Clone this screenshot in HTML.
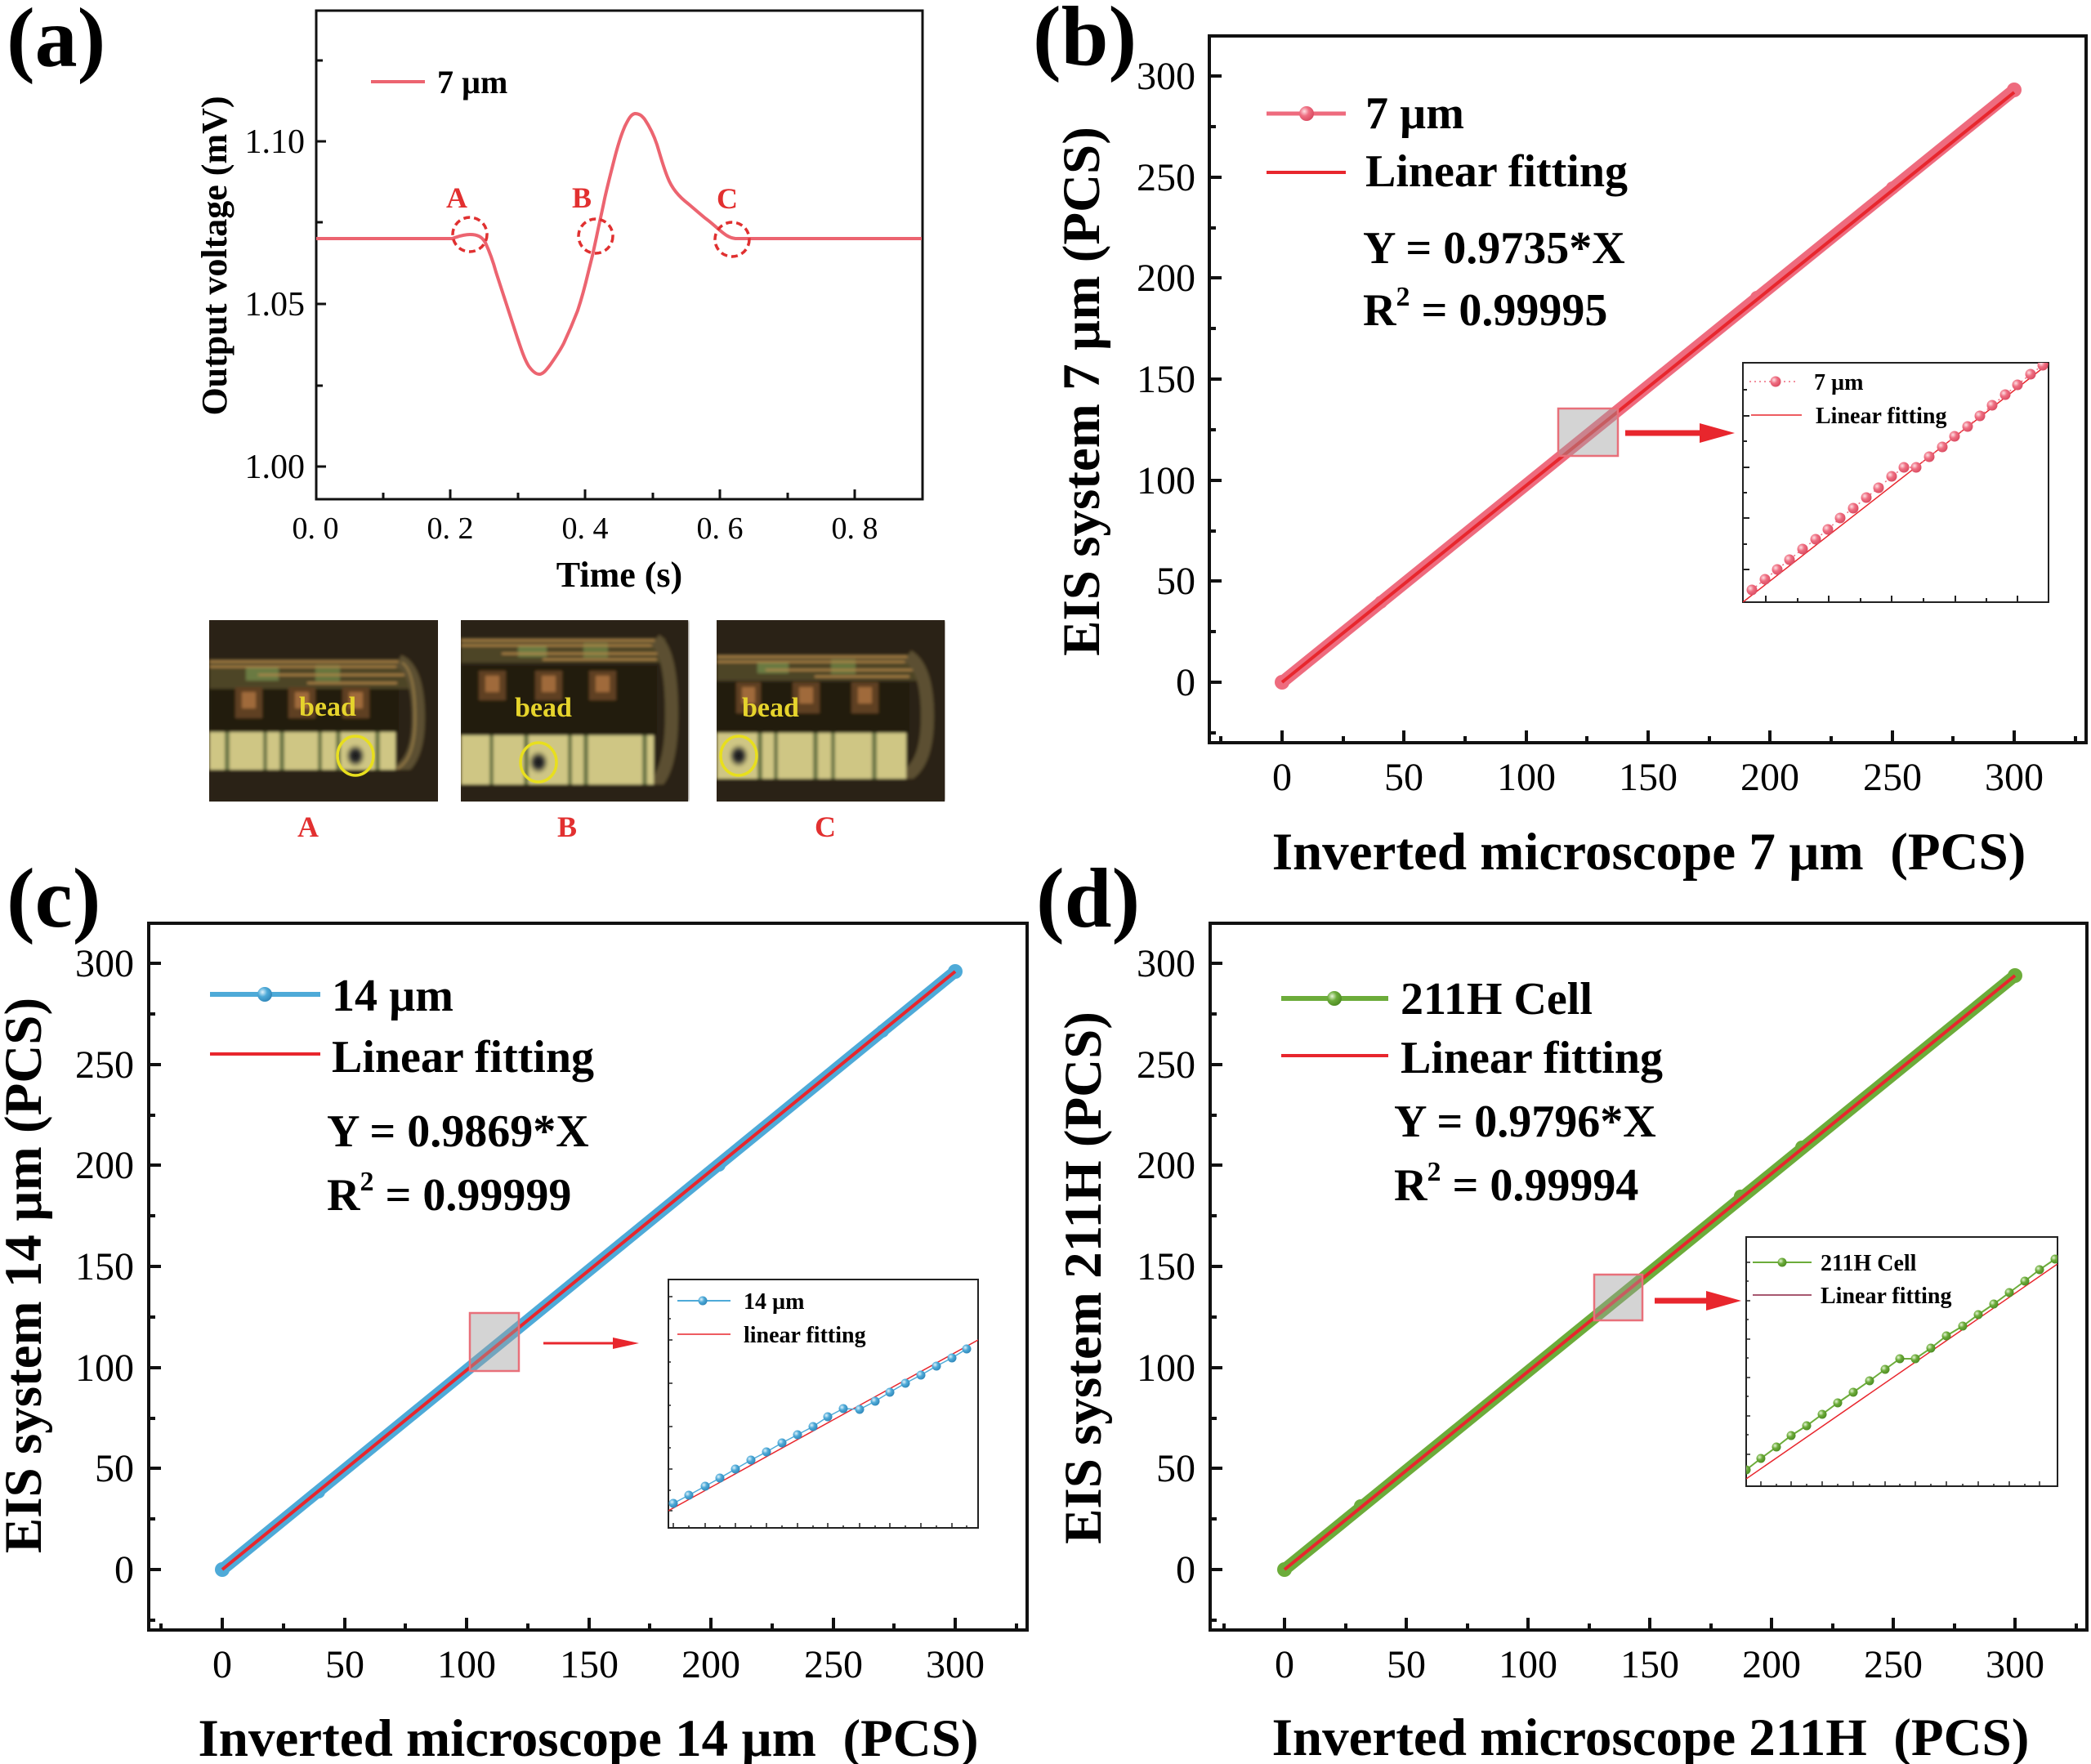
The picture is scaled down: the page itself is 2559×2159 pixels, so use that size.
<!DOCTYPE html>
<html><head><meta charset="utf-8"><style>
html,body{margin:0;padding:0;background:#fff}
svg{display:block}
text{font-family:"Liberation Serif","Times New Roman",serif}
.b{font-weight:bold}
</style></head><body>
<svg xmlns="http://www.w3.org/2000/svg" width="2559" height="2159" viewBox="0 0 2559 2159">
<defs>
<radialGradient id="gp" cx="0.35" cy="0.35" r="0.7"><stop offset="0" stop-color="#fde0e4"/><stop offset="0.45" stop-color="#ef6f82"/><stop offset="1" stop-color="#d94a60"/></radialGradient>
<radialGradient id="gb" cx="0.35" cy="0.35" r="0.7"><stop offset="0" stop-color="#dff2fb"/><stop offset="0.45" stop-color="#4eaad8"/><stop offset="1" stop-color="#2f86b8"/></radialGradient>
<radialGradient id="gg" cx="0.35" cy="0.35" r="0.7"><stop offset="0" stop-color="#e6f5d6"/><stop offset="0.45" stop-color="#6cac3a"/><stop offset="1" stop-color="#4c8a22"/></radialGradient>
<clipPath id="cb"><rect x="2133" y="444" width="374" height="293"/></clipPath>
<clipPath id="cc"><rect x="818" y="1566" width="379" height="304"/></clipPath>
<clipPath id="cd"><rect x="2137" y="1514" width="381" height="305"/></clipPath>
<clipPath id="ph"><rect width="280" height="222"/></clipPath>
<filter id="bl" x="-5%" y="-5%" width="110%" height="110%"><feGaussianBlur stdDeviation="1.8"/></filter>
<radialGradient id="dot" cx="0.5" cy="0.5" r="0.5"><stop offset="0" stop-color="#111"/><stop offset="0.45" stop-color="#333"/><stop offset="1" stop-color="#8a8658" stop-opacity="0"/></radialGradient>
</defs>
<rect width="2559" height="2159" fill="#fff"/>

<!-- ================= PANEL (a) ================= -->
<text class="b" x="8" y="81" font-size="104">(a)</text>
<rect x="387" y="13" width="742" height="598" fill="none" stroke="#111" stroke-width="3"/>
<path d="M551,611V599M716,611V599M881,611V599M1046,611V599M469,611V603M634,611V603M799,611V603M964,611V603M387,571H399M387,372H399M387,173H399M387,472H395M387,272H395M387,74H395" stroke="#111" stroke-width="3" fill="none"/>
<g font-size="42" text-anchor="end">
<text x="373" y="585">1.00</text><text x="373" y="386">1.05</text><text x="373" y="187">1.10</text>
</g>
<g font-size="38" text-anchor="middle">
<text x="386" y="659">0. 0</text><text x="551" y="659">0. 2</text><text x="716" y="659">0. 4</text><text x="881" y="659">0. 6</text><text x="1046" y="659">0. 8</text>
</g>
<text class="b" x="758" y="718" font-size="44" text-anchor="middle">Time (s)</text>
<text class="b" font-size="44" text-anchor="middle" transform="translate(277,313) rotate(-90)">Output voltage (mV)</text>
<line x1="454" y1="100" x2="520" y2="100" stroke="#ec6470" stroke-width="4"/>
<text class="b" x="535" y="114" font-size="40">7 µm</text>
<path d="M387,292 L553,292 C560,290 566,287 575,287 C585,287 590,290 594,297 C600,310 604,322 607,333 L620,373 L633,413 C638,428 642,440 647,448 C652,455 656,458 660,458 C665,458 669,452 673,447 C680,437 685,430 690,420 C697,405 702,393 707,380 C712,365 716,350 720,333 C724,318 727,305 730,290 C733,275 737,258 740,243 C744,225 748,210 751,198 C755,182 760,165 765,154 C769,146 772,140 777,139 C782,139 785,141 789,146 C795,155 800,165 804,177 C808,190 812,205 817,217 C822,230 830,240 843,250 C850,256 857,262 863,267 C870,272 875,277 880,281 C887,287 892,291 900,292 L1128,292" fill="none" stroke="#ec6470" stroke-width="4"/>
<g fill="none" stroke="#e03030" stroke-width="3.5" stroke-dasharray="8,5">
<circle cx="575" cy="287" r="21"/><circle cx="729" cy="289" r="21"/><circle cx="896" cy="293" r="21"/>
</g>
<g class="b" font-size="36" fill="#e23030" font-weight="bold">
<text x="546" y="254">A</text><text x="700" y="254">B</text><text x="877" y="255">C</text>
</g>

<!-- photos -->
<g transform="translate(256,759)">
<rect width="280" height="222" fill="#2c2316"/>
<g filter="url(#bl)" clip-path="url(#ph)">
<rect width="280" height="222" fill="#2c2316"/>
<rect x="0" y="48" width="245" height="36" fill="#4d4526"/>
<rect x="45" y="58" width="40" height="16" fill="#6a7a42"/><rect x="130" y="55" width="30" height="20" fill="#66743e"/>
<g stroke="#b88a4c" stroke-width="2"><line x1="0" y1="51" x2="238" y2="51"/><line x1="0" y1="57" x2="240" y2="57"/><line x1="60" y1="67" x2="240" y2="67"/><line x1="120" y1="77" x2="230" y2="77"/></g>
<path d="M232,50 Q256,60 256,120 Q256,175 228,186" fill="none" stroke="#5c5030" stroke-width="16"/>
<path d="M236,52 Q252,62 252,120 Q252,170 230,182" fill="none" stroke="#9c8048" stroke-width="2"/>
<rect x="0" y="84" width="232" height="52" fill="#231a10"/>
<rect x="32" y="82" width="33" height="38" fill="#5e3f22"/><rect x="40" y="88" width="17" height="20" fill="#a06a3a"/>
<rect x="97" y="82" width="33" height="38" fill="#5e3f22"/><rect x="105" y="88" width="17" height="20" fill="#a06a3a"/>
<rect x="163" y="82" width="33" height="38" fill="#5e3f22"/><rect x="171" y="88" width="17" height="20" fill="#a06a3a"/>
<rect x="0" y="137" width="228" height="46" fill="#cfc684"/>
<g fill="#6e7846"><rect x="19" y="137" width="6" height="46"/><rect x="66" y="137" width="5" height="46"/><rect x="86" y="137" width="6" height="46"/><rect x="133" y="137" width="5" height="46"/><rect x="155" y="137" width="6" height="46"/><rect x="203" y="137" width="6" height="46"/></g>
<rect x="0" y="183" width="280" height="39" fill="#2a2114"/>
<ellipse cx="179" cy="166" rx="13" ry="15" fill="url(#dot)"/>
</g>
<text class="b" x="110" y="117" font-size="34" fill="#e6d42c">bead</text>
<ellipse cx="179" cy="166" rx="22" ry="24" fill="none" stroke="#e8df1e" stroke-width="3.5"/>
</g>
<g transform="translate(564,759)">
<rect width="278" height="222" fill="#2c2316"/>
<g filter="url(#bl)" clip-path="url(#ph)">
<rect width="278" height="222" fill="#2c2316"/>
<rect x="0" y="22" width="250" height="30" fill="#4d4526"/>
<rect x="70" y="30" width="35" height="15" fill="#6a7a42"/><rect x="150" y="28" width="30" height="18" fill="#66743e"/>
<g stroke="#b88a4c" stroke-width="2"><line x1="0" y1="25" x2="245" y2="25"/><line x1="0" y1="31" x2="248" y2="31"/><line x1="50" y1="41" x2="248" y2="41"/><line x1="100" y1="48" x2="240" y2="48"/></g>
<path d="M238,24 Q258,40 258,115 Q258,190 232,205" fill="none" stroke="#5c5030" stroke-width="16"/>
<rect x="0" y="56" width="240" height="84" fill="#231a10"/>
<rect x="22" y="62" width="33" height="36" fill="#5e3f22"/><rect x="30" y="68" width="17" height="20" fill="#a06a3a"/>
<rect x="91" y="62" width="33" height="36" fill="#5e3f22"/><rect x="99" y="68" width="17" height="20" fill="#a06a3a"/>
<rect x="157" y="62" width="33" height="36" fill="#5e3f22"/><rect x="165" y="68" width="17" height="20" fill="#a06a3a"/>
<rect x="0" y="141" width="236" height="60" fill="#cfc684"/>
<g fill="#6e7846"><rect x="35" y="141" width="5" height="60"/><rect x="77" y="141" width="6" height="60"/><rect x="131" y="141" width="5" height="60"/><rect x="150" y="141" width="6" height="60"/><rect x="222" y="141" width="6" height="60"/></g>
<rect x="0" y="201" width="278" height="21" fill="#2a2114"/>
<ellipse cx="95" cy="174" rx="13" ry="15" fill="url(#dot)"/>
</g>
<text class="b" x="66" y="118" font-size="34" fill="#e6d42c">bead</text>
<ellipse cx="95" cy="174" rx="22" ry="24" fill="none" stroke="#e8df1e" stroke-width="3.5"/>
</g>
<g transform="translate(877,759)">
<rect width="279" height="222" fill="#2c2316"/>
<g filter="url(#bl)" clip-path="url(#ph)">
<rect width="279" height="222" fill="#2c2316"/>
<rect x="0" y="42" width="245" height="32" fill="#4d4526"/>
<rect x="50" y="50" width="38" height="15" fill="#6a7a42"/><rect x="140" y="48" width="30" height="18" fill="#66743e"/>
<g stroke="#b88a4c" stroke-width="2"><line x1="0" y1="45" x2="240" y2="45"/><line x1="0" y1="51" x2="242" y2="51"/><line x1="60" y1="61" x2="242" y2="61"/><line x1="120" y1="69" x2="236" y2="69"/></g>
<path d="M234,44 Q258,58 258,118 Q258,180 228,192" fill="none" stroke="#5c5030" stroke-width="16"/>
<rect x="0" y="76" width="236" height="61" fill="#231a10"/>
<rect x="24" y="76" width="30" height="38" fill="#5e3f22"/><rect x="31" y="82" width="16" height="20" fill="#a06a3a"/>
<rect x="93" y="76" width="33" height="38" fill="#5e3f22"/><rect x="101" y="82" width="17" height="20" fill="#a06a3a"/>
<rect x="165" y="76" width="33" height="38" fill="#5e3f22"/><rect x="173" y="82" width="17" height="20" fill="#a06a3a"/>
<rect x="0" y="138" width="232" height="56" fill="#cfc684"/>
<g fill="#6e7846"><rect x="50" y="138" width="6" height="56"/><rect x="70" y="138" width="5" height="56"/><rect x="118" y="138" width="6" height="56"/><rect x="140" y="138" width="5" height="56"/><rect x="190" y="138" width="6" height="56"/></g>
<rect x="0" y="194" width="279" height="28" fill="#2a2114"/>
<ellipse cx="27" cy="166" rx="13" ry="15" fill="url(#dot)"/>
</g>
<text class="b" x="31" y="118" font-size="34" fill="#e6d42c">bead</text>
<ellipse cx="27" cy="166" rx="22" ry="24" fill="none" stroke="#e8df1e" stroke-width="3.5"/>
</g>
<g class="b" font-size="36" fill="#e23030" font-weight="bold" text-anchor="middle">
<text x="377" y="1024">A</text><text x="694" y="1024">B</text><text x="1010" y="1024">C</text>
</g>

<!-- ================= PANEL (b) ================= -->
<rect x="1480" y="44" width="1073" height="865" fill="none" stroke="#111" stroke-width="4"/>
<path d="M1569,909V894M1718,909V894M1868,909V894M2017,909V894M2166,909V894M2316,909V894M2465,909V894M1494,909V901M1644,909V901M1793,909V901M1942,909V901M2092,909V901M2241,909V901M2390,909V901M2540,909V901M1480,835H1495M1480,711H1495M1480,588H1495M1480,464H1495M1480,340H1495M1480,217H1495M1480,93H1495M1480,897H1488M1480,773H1488M1480,650H1488M1480,526H1488M1480,402H1488M1480,279H1488M1480,155H1488" stroke="#111" stroke-width="4" fill="none"/>
<g font-size="48" text-anchor="end">
<text x="1463" y="851">0</text><text x="1463" y="727">50</text><text x="1463" y="604">100</text><text x="1463" y="480">150</text><text x="1463" y="356">200</text><text x="1463" y="233">250</text><text x="1463" y="109">300</text>
</g>
<g font-size="48" text-anchor="middle">
<text x="1569" y="967">0</text><text x="1718" y="967">50</text><text x="1868" y="967">100</text><text x="2017" y="967">150</text><text x="2166" y="967">200</text><text x="2316" y="967">250</text><text x="2465" y="967">300</text>
</g>
<text class="b" x="2018" y="1064" font-size="65" text-anchor="middle">Inverted microscope 7 µm&#160;&#160;(PCS)</text>
<text class="b" font-size="65" text-anchor="middle" transform="translate(1345,479) rotate(-90)">EIS system 7 µm (PCS)</text>
<text class="b" x="1264" y="79" font-size="104">(b)</text>
<line x1="1569" y1="835" x2="2465" y2="110" stroke="#ee6b7e" stroke-width="15" stroke-linecap="round"/>
<g fill="#ee6b7e"><circle cx="1569" cy="835" r="9"/><circle cx="2465" cy="110" r="9"/><circle cx="1690" cy="737" r="8"/><circle cx="2150" cy="364" r="8"/><circle cx="2316" cy="230" r="8"/></g>
<line x1="1569" y1="835" x2="2465" y2="113" stroke="#e8262d" stroke-width="4"/>
<rect x="1907" y="500" width="73" height="58" fill="#a0a0a0" fill-opacity="0.45" stroke="#e8707a" stroke-width="2.5"/>
<rect x="1989" y="526.5" width="96" height="7" fill="#e8262d"/>
<polygon points="2080,518 2123,530 2080,542" fill="#e8262d"/>
<line x1="1550" y1="139" x2="1647" y2="139" stroke="#ee6b7e" stroke-width="5"/>
<circle cx="1599" cy="139" r="9" fill="url(#gp)"/>
<line x1="1550" y1="211" x2="1647" y2="211" stroke="#e8262d" stroke-width="4"/>
<g class="b" font-size="56">
<text x="1671" y="157">7 µm</text>
<text x="1671" y="228">Linear fitting</text>
<text x="1668" y="322">Y = 0.9735*X</text>
<text x="1668" y="398">R<tspan dy="-24" font-size="34">2</tspan><tspan dy="24"> = 0.99995</tspan></text>
</g>
<!-- inset b -->
<rect x="2133" y="444" width="374" height="293" fill="#fff" stroke="#222" stroke-width="2"/>
<path d="M2133,477H2138M2133,509H2141M2133,540H2138M2133,572H2141M2133,603H2138M2133,634H2141M2133,666H2138M2133,697H2141M2161,737V729M2200,737V732M2238,737V729M2277,737V732M2315,737V729M2354,737V732M2393,737V729M2431,737V732M2469,737V729" stroke="#222" stroke-width="2"/>
<g clip-path="url(#cb)">
<line x1="2133" y1="737" x2="2507" y2="445" stroke="#e8262d" stroke-width="1.5"/>
<polyline points="2144,722 2160,709 2175,697 2190,685 2206,672 2222,660 2237,648 2252,634 2268,622 2284,609 2299,597 2315,583 2330,572 2345,572 2361,559 2377,547 2392,534 2408,522 2423,509 2438,496 2454,483 2469,471 2485,458 2500,447" fill="none" stroke="#ee6b7e" stroke-width="1.5" stroke-dasharray="2,4"/>
<g fill="url(#gp)">
<circle cx="2144" cy="722" r="6.5"/><circle cx="2160" cy="709" r="6.5"/><circle cx="2175" cy="697" r="6.5"/><circle cx="2190" cy="685" r="6.5"/><circle cx="2206" cy="672" r="6.5"/><circle cx="2222" cy="660" r="6.5"/><circle cx="2237" cy="648" r="6.5"/><circle cx="2252" cy="634" r="6.5"/><circle cx="2268" cy="622" r="6.5"/><circle cx="2284" cy="609" r="6.5"/><circle cx="2299" cy="597" r="6.5"/><circle cx="2315" cy="583" r="6.5"/><circle cx="2330" cy="572" r="6.5"/><circle cx="2345" cy="572" r="6.5"/><circle cx="2361" cy="559" r="6.5"/><circle cx="2377" cy="547" r="6.5"/><circle cx="2392" cy="534" r="6.5"/><circle cx="2408" cy="522" r="6.5"/><circle cx="2423" cy="509" r="6.5"/><circle cx="2438" cy="496" r="6.5"/><circle cx="2454" cy="483" r="6.5"/><circle cx="2469" cy="471" r="6.5"/><circle cx="2485" cy="458" r="6.5"/><circle cx="2500" cy="447" r="6.5"/>
</g>
</g>
<line x1="2141" y1="467" x2="2200" y2="467" stroke="#ee6b7e" stroke-width="1.5" stroke-dasharray="2,4"/>
<circle cx="2173" cy="467" r="6.5" fill="url(#gp)"/>
<line x1="2143" y1="508" x2="2205" y2="508" stroke="#e8262d" stroke-width="1.5"/>
<g class="b" font-size="28"><text x="2220" y="477">7 µm</text><text x="2222" y="518">Linear fitting</text></g>

<!-- ================= PANEL (c) ================= -->
<text class="b" x="8" y="1134" font-size="104">(c)</text>
<rect x="182" y="1130" width="1075" height="865" fill="none" stroke="#111" stroke-width="4"/>
<path d="M272,1995V1980M422,1995V1980M571,1995V1980M721,1995V1980M870,1995V1980M1020,1995V1980M1169,1995V1980M197,1995V1987M347,1995V1987M496,1995V1987M646,1995V1987M795,1995V1987M945,1995V1987M1094,1995V1987M1244,1995V1987M182,1921H197M182,1797H197M182,1674H197M182,1550H197M182,1426H197M182,1303H197M182,1179H197M182,1983H190M182,1859H190M182,1736H190M182,1612H190M182,1488H190M182,1365H190M182,1241H190" stroke="#111" stroke-width="4" fill="none"/>
<g font-size="48" text-anchor="end">
<text x="164" y="1937">0</text><text x="164" y="1813">50</text><text x="164" y="1690">100</text><text x="164" y="1566">150</text><text x="164" y="1442">200</text><text x="164" y="1319">250</text><text x="164" y="1195">300</text>
</g>
<g font-size="48" text-anchor="middle">
<text x="272" y="2053">0</text><text x="422" y="2053">50</text><text x="571" y="2053">100</text><text x="721" y="2053">150</text><text x="870" y="2053">200</text><text x="1020" y="2053">250</text><text x="1169" y="2053">300</text>
</g>
<text class="b" x="720" y="2149" font-size="65" text-anchor="middle">Inverted microscope 14 µm&#160;&#160;(PCS)</text>
<text class="b" font-size="65" text-anchor="middle" transform="translate(50,1561) rotate(-90)">EIS system 14 µm (PCS)</text>
<line x1="272" y1="1921" x2="1169" y2="1189" stroke="#4eaad8" stroke-width="15" stroke-linecap="round"/>
<g fill="#4eaad8"><circle cx="272" cy="1921" r="9"/><circle cx="1169" cy="1189" r="9"/><circle cx="390" cy="1826" r="8"/><circle cx="880" cy="1426" r="8"/><circle cx="1080" cy="1262" r="8"/></g>
<line x1="272" y1="1921" x2="1169" y2="1189" stroke="#e8262d" stroke-width="4"/>
<rect x="575" y="1607" width="60" height="71" fill="#a0a0a0" fill-opacity="0.45" stroke="#e8707a" stroke-width="2.5"/>
<line x1="665" y1="1644" x2="755" y2="1644" stroke="#e8262d" stroke-width="3"/>
<polygon points="750,1637 782,1644 750,1651" fill="#e8262d"/>
<line x1="257" y1="1217" x2="392" y2="1217" stroke="#4eaad8" stroke-width="6"/>
<circle cx="324" cy="1217" r="9" fill="url(#gb)"/>
<line x1="257" y1="1290" x2="392" y2="1290" stroke="#e8262d" stroke-width="4"/>
<g class="b" font-size="56">
<text x="406" y="1237">14 µm</text>
<text x="406" y="1312">Linear fitting</text>
<text x="400" y="1403">Y = 0.9869*X</text>
<text x="400" y="1481">R<tspan dy="-24" font-size="34">2</tspan><tspan dy="24"> = 0.99999</tspan></text>
</g>
<!-- inset c -->
<rect x="818" y="1566" width="379" height="304" fill="#fff" stroke="#222" stroke-width="2"/>
<path d="M818,1587H823M818,1614H821M818,1640H823M818,1667H821M818,1693H823M818,1720H821M818,1746H823M818,1772H821M818,1798H823M818,1824H821M818,1849H823M824,1870V1864M843,1870V1867M863,1870V1864M881,1870V1867M900,1870V1864M919,1870V1867M938,1870V1864M957,1870V1867M976,1870V1864M995,1870V1867M1013,1870V1864M1032,1870V1867M1052,1870V1864M1071,1870V1867M1089,1870V1864M1108,1870V1867M1127,1870V1864M1146,1870V1867M1165,1870V1864M1183,1870V1867" stroke="#222" stroke-width="1.5"/>
<g clip-path="url(#cc)">
<line x1="818" y1="1849" x2="1197" y2="1640" stroke="#e8262d" stroke-width="1.5"/>
<polyline points="824,1840 843,1830 863,1819 881,1809 900,1798 919,1787 938,1777 957,1766 976,1756 995,1746 1013,1734 1032,1724 1052,1725 1071,1715 1089,1704 1108,1693 1127,1683 1146,1672 1165,1662 1183,1651" fill="none" stroke="#4eaad8" stroke-width="1.5"/>
<g fill="url(#gb)">
<circle cx="824" cy="1840" r="5.5"/><circle cx="843" cy="1830" r="5.5"/><circle cx="863" cy="1819" r="5.5"/><circle cx="881" cy="1809" r="5.5"/><circle cx="900" cy="1798" r="5.5"/><circle cx="919" cy="1787" r="5.5"/><circle cx="938" cy="1777" r="5.5"/><circle cx="957" cy="1766" r="5.5"/><circle cx="976" cy="1756" r="5.5"/><circle cx="995" cy="1746" r="5.5"/><circle cx="1013" cy="1734" r="5.5"/><circle cx="1032" cy="1724" r="5.5"/><circle cx="1052" cy="1725" r="5.5"/><circle cx="1071" cy="1715" r="5.5"/><circle cx="1089" cy="1704" r="5.5"/><circle cx="1108" cy="1693" r="5.5"/><circle cx="1127" cy="1683" r="5.5"/><circle cx="1146" cy="1672" r="5.5"/><circle cx="1165" cy="1662" r="5.5"/><circle cx="1183" cy="1651" r="5.5"/>
</g>
</g>
<line x1="829" y1="1592" x2="894" y2="1592" stroke="#4eaad8" stroke-width="2"/>
<circle cx="860" cy="1592" r="5.5" fill="url(#gb)"/>
<line x1="829" y1="1633" x2="894" y2="1633" stroke="#e8262d" stroke-width="1.5"/>
<g class="b" font-size="28"><text x="910" y="1602">14 µm</text><text x="910" y="1643">linear fitting</text></g>

<!-- ================= PANEL (d) ================= -->
<text class="b" x="1268" y="1134" font-size="104">(d)</text>
<rect x="1481" y="1130" width="1073" height="865" fill="none" stroke="#111" stroke-width="4"/>
<path d="M1572,1995V1980M1721,1995V1980M1870,1995V1980M2019,1995V1980M2168,1995V1980M2317,1995V1980M2466,1995V1980M1498,1995V1987M1647,1995V1987M1796,1995V1987M1945,1995V1987M2094,1995V1987M2243,1995V1987M2392,1995V1987M2541,1995V1987M1481,1921H1496M1481,1797H1496M1481,1674H1496M1481,1550H1496M1481,1426H1496M1481,1303H1496M1481,1179H1496M1481,1983H1489M1481,1859H1489M1481,1736H1489M1481,1612H1489M1481,1488H1489M1481,1365H1489M1481,1241H1489" stroke="#111" stroke-width="4" fill="none"/>
<g font-size="48" text-anchor="end">
<text x="1463" y="1937">0</text><text x="1463" y="1813">50</text><text x="1463" y="1690">100</text><text x="1463" y="1566">150</text><text x="1463" y="1442">200</text><text x="1463" y="1319">250</text><text x="1463" y="1195">300</text>
</g>
<g font-size="48" text-anchor="middle">
<text x="1572" y="2053">0</text><text x="1721" y="2053">50</text><text x="1870" y="2053">100</text><text x="2019" y="2053">150</text><text x="2168" y="2053">200</text><text x="2317" y="2053">250</text><text x="2466" y="2053">300</text>
</g>
<text class="b" x="2020" y="2148" font-size="65" text-anchor="middle">Inverted microscope 211H&#160;&#160;(PCS)</text>
<text class="b" font-size="65" text-anchor="middle" transform="translate(1347,1564) rotate(-90)">EIS system 211H (PCS)</text>
<line x1="1572" y1="1921" x2="2466" y2="1194" stroke="#6cac3a" stroke-width="15" stroke-linecap="round"/>
<g fill="#6cac3a"><circle cx="1572" cy="1921" r="9"/><circle cx="2466" cy="1194" r="9"/><circle cx="1665" cy="1843" r="8"/><circle cx="2130" cy="1464" r="8"/><circle cx="2205" cy="1404" r="8"/></g>
<line x1="1572" y1="1921" x2="2466" y2="1194" stroke="#e8262d" stroke-width="4"/>
<rect x="1951" y="1560" width="59" height="56" fill="#a0a0a0" fill-opacity="0.45" stroke="#e8707a" stroke-width="2.5"/>
<rect x="2025" y="1588.5" width="70" height="7" fill="#e8262d"/>
<polygon points="2088,1580 2131,1592 2088,1604" fill="#e8262d"/>
<line x1="1568" y1="1222" x2="1699" y2="1222" stroke="#6cac3a" stroke-width="6"/>
<circle cx="1633" cy="1222" r="9" fill="url(#gg)"/>
<line x1="1568" y1="1292" x2="1699" y2="1292" stroke="#e8262d" stroke-width="4"/>
<g class="b" font-size="56">
<text x="1714" y="1241">211H Cell</text>
<text x="1714" y="1313">Linear fitting</text>
<text x="1706" y="1391">Y = 0.9796*X</text>
<text x="1706" y="1469">R<tspan dy="-24" font-size="34">2</tspan><tspan dy="24"> = 0.99994</tspan></text>
</g>
<!-- inset d -->
<rect x="2137" y="1514" width="381" height="305" fill="#fff" stroke="#222" stroke-width="2"/>
<path d="M2137,1545H2142M2137,1568H2140M2137,1592H2142M2137,1615H2140M2137,1639H2142M2137,1662H2140M2137,1686H2142M2137,1709H2140M2137,1733H2142M2137,1756H2140M2137,1780H2142M2155,1819V1813M2174,1819V1816M2192,1819V1813M2211,1819V1816M2230,1819V1813M2249,1819V1816M2268,1819V1813M2288,1819V1816M2307,1819V1813M2325,1819V1816M2344,1819V1813M2363,1819V1816M2382,1819V1813M2402,1819V1816M2421,1819V1813M2440,1819V1816M2459,1819V1813M2478,1819V1816M2496,1819V1813" stroke="#222" stroke-width="1.5"/>
<g clip-path="url(#cd)">
<line x1="2137" y1="1810" x2="2518" y2="1547" stroke="#e8262d" stroke-width="1.5"/>
<polyline points="2137,1799 2155,1785 2174,1771 2192,1757 2211,1745 2230,1731 2249,1717 2268,1704 2288,1690 2307,1676 2325,1663 2344,1663 2363,1650 2382,1635 2402,1623 2421,1609 2440,1596 2459,1582 2478,1568 2496,1554 2515,1541" fill="none" stroke="#6cac3a" stroke-width="2"/>
<g fill="url(#gg)">
<circle cx="2137" cy="1799" r="5.5"/><circle cx="2155" cy="1785" r="5.5"/><circle cx="2174" cy="1771" r="5.5"/><circle cx="2192" cy="1757" r="5.5"/><circle cx="2211" cy="1745" r="5.5"/><circle cx="2230" cy="1731" r="5.5"/><circle cx="2249" cy="1717" r="5.5"/><circle cx="2268" cy="1704" r="5.5"/><circle cx="2288" cy="1690" r="5.5"/><circle cx="2307" cy="1676" r="5.5"/><circle cx="2325" cy="1663" r="5.5"/><circle cx="2344" cy="1663" r="5.5"/><circle cx="2363" cy="1650" r="5.5"/><circle cx="2382" cy="1635" r="5.5"/><circle cx="2402" cy="1623" r="5.5"/><circle cx="2421" cy="1609" r="5.5"/><circle cx="2440" cy="1596" r="5.5"/><circle cx="2459" cy="1582" r="5.5"/><circle cx="2478" cy="1568" r="5.5"/><circle cx="2496" cy="1554" r="5.5"/><circle cx="2515" cy="1541" r="5.5"/>
</g>
</g>
<line x1="2145" y1="1545" x2="2217" y2="1545" stroke="#6cac3a" stroke-width="2"/>
<circle cx="2181" cy="1545" r="5.5" fill="url(#gg)"/>
<line x1="2145" y1="1585" x2="2217" y2="1585" stroke="#8a2040" stroke-width="1.5"/>
<g class="b" font-size="28"><text x="2228" y="1555">211H Cell</text><text x="2228" y="1595">Linear fitting</text></g>
</svg>
</body></html>
